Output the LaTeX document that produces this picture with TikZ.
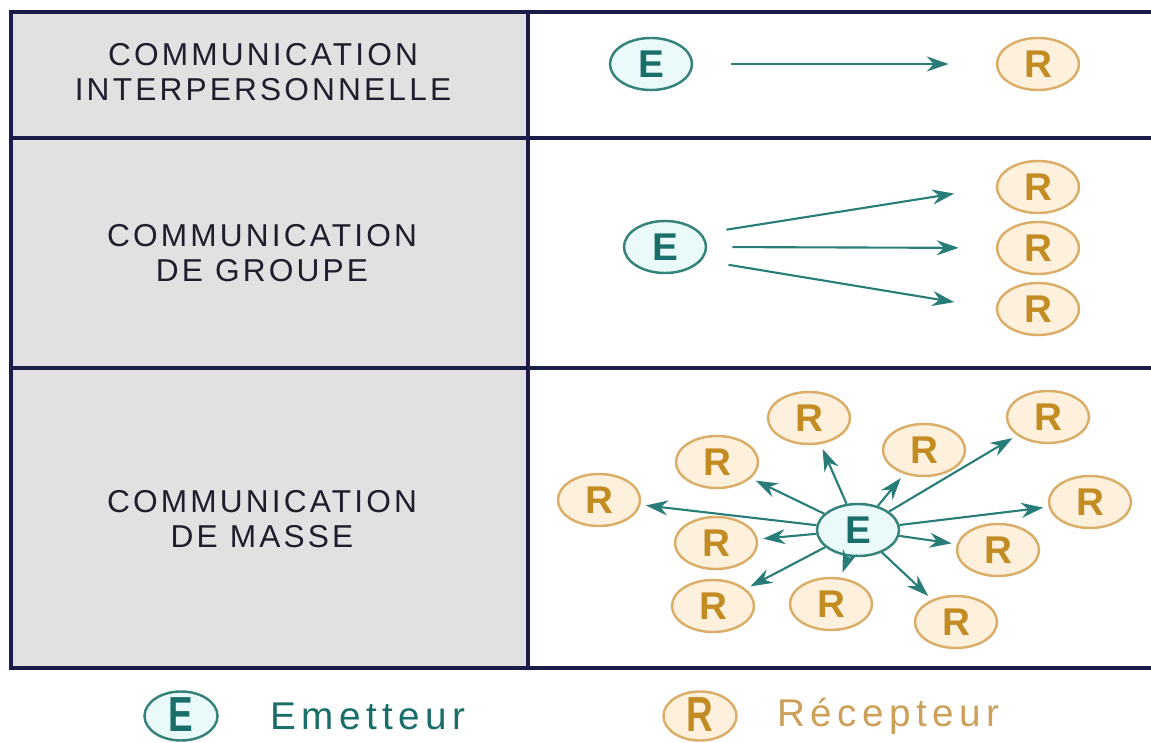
\documentclass[tikz,border=0pt]{standalone}
\usepackage{fontspec}
\setmainfont{Liberation Sans}
\usetikzlibrary{arrows.meta,shapes.geometric}

\definecolor{gridline}{RGB}{28,28,72}
\definecolor{cellgray}{RGB}{225,225,225}
\definecolor{labeltext}{RGB}{30,30,45}
\definecolor{emline}{RGB}{52,130,122}
\definecolor{emfill}{RGB}{234,249,249}
\definecolor{emtext}{RGB}{25,110,105}
\definecolor{recline}{RGB}{218,174,105}
\definecolor{recfill}{RGB}{253,241,222}
\definecolor{rectext}{RGB}{195,140,35}
\definecolor{reclegend}{RGB}{205,160,90}
\definecolor{arrowcol}{RGB}{40,125,120}

\begin{document}
\begin{tikzpicture}[
    x=0.01cm, y=-0.01cm,
    tableline/.style={line width=1.2pt, draw=gridline, line cap=rect},
    cell/.style={font=\fontsize{9}{10}\selectfont\addfontfeatures{LetterSpace=10}, text=labeltext, align=center},
    emit/.style={ellipse, draw=emline, fill=emfill, line width=0.7pt, minimum width=0.82cm, minimum height=0.52cm, inner sep=0pt, text=emtext, font=\fontsize{11}{11}\selectfont\bfseries},
    recv/.style={emit, draw=recline, fill=recfill, text=rectext},
    keybox/.style={minimum width=0.73cm, minimum height=0.49cm},
    sig/.style={-{Stealth[length=2.2mm, width=1.5mm]}, draw=arrowcol, line width=0.6pt},
    legend/.style={anchor=west, font=\fontsize{11}{12}\selectfont\addfontfeatures{LetterSpace=14}}
]
\useasboundingbox (0,0) rectangle (1151,743);

% Table frame
\fill[cellgray] (11,12) rectangle (528,668);
\draw[tableline] (11,12) -- (1151,12);
\draw[tableline] (11,138) -- (1151,138);
\draw[tableline] (11,368) -- (1151,368);
\draw[tableline] (11,668) -- (1151,668);
\draw[tableline] (11,12) -- (11,668);
\draw[tableline] (528,12) -- (528,668);

% Row labels
\node[cell] (lab1) at (263,72) {COMMUNICATION\\INTERPERSONNELLE};
\node[cell] (lab2) at (262,253) {COMMUNICATION\\DE GROUPE};
\node[cell] (lab3) at (262,519) {COMMUNICATION\\DE MASSE};

% Interpersonal
\node[emit] (em1) at (651,64) {E};
\node[recv] (re1) at (1038,64) {R};
\draw[sig, shorten <=0.38cm, shorten >=0.47cm] (em1.east) -- (re1.west);

% Group
\node[emit] (em2) at (665,247) {E};
\node[recv] (re2a) at (1038,187) {R};
\node[recv] (re2b) at (1038,248) {R};
\node[recv] (re2c) at (1038,309) {R};
\draw[sig, shorten <=0.25cm, shorten >=0.42cm] (em2.20) -- (re2a.west);
\draw[sig, shorten <=0.25cm, shorten >=0.37cm] (em2.east) -- (re2b.west);
\draw[sig, shorten <=0.27cm, shorten >=0.42cm] (em2.-20) -- (re2c.west);

% Mass
\node[emit] (em3) at (858,530) {E};
\foreach \pos [count=\i] in {{599,500},{717,462},{809,418},{924,450},{1048,417},{1090,502},{998,550},{956,622},{831,604},{713,606},{716,543}}{
    \node[recv] (m\i) at (\pos) {R};
    \draw[sig, shorten >=1.5pt] (em3) -- (m\i);
}

% Legend
\node[emit, keybox] (keyE) at (181,716) {\raisebox{-0.15cm}[0pt][0pt]{\scalebox{0.75}[1]{\fontsize{14}{14}\selectfont\bfseries E}}};
\node[legend, text=emtext] (keyEtxt) at (258,716) {Emetteur};
\node[recv, keybox] (keyR) at (700,716) {\raisebox{-0.15cm}[0pt][0pt]{\scalebox{0.75}[1]{\fontsize{14}{14}\selectfont\bfseries R}}};
\node[legend, text=reclegend] (keyRtxt) at (765,716) {Récepteur};
\end{tikzpicture}
\end{document}
